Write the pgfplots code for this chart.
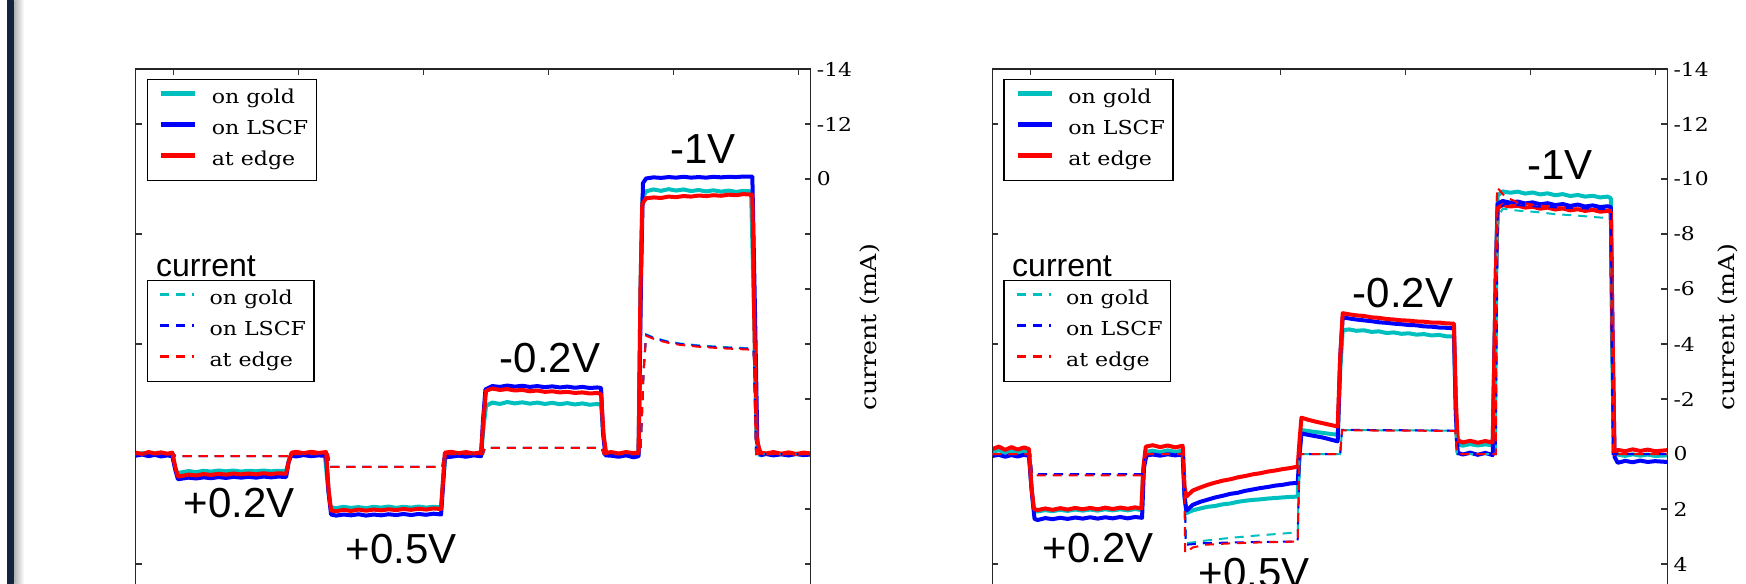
\documentclass[border=0pt]{standalone}
\usepackage{pgfplots}
\pgfplotsset{compat=1.18}
\usepackage{pgfplotstable}
\usepackage{fontspec}
\setmainfont{DejaVu Serif}
\newfontfamily\dvserif[FakeStretch=1.15]{DejaVu Serif}
\newfontfamily\annfont{Liberation Sans}
\definecolor{mplcyan}{rgb}{0,0.75,0.75}
\definecolor{mplblue}{rgb}{0,0,1}
\definecolor{mplred}{rgb}{1,0,0}
\definecolor{slidebar}{HTML}{13243E}

% ---------- left panel: solid traces ----------
\pgfplotstableread{
x y
-0.303 0.02
-0.25 -0.03
-0.20 0.03
-0.15 -0.02
-0.10 0.04
-0.05 0.00
-0.01 0.02
0.01 0.45
0.03 0.70
0.06 0.67
0.12 0.62
0.18 0.66
0.24 0.61
0.30 0.64
0.36 0.60
0.42 0.63
0.48 0.60
0.54 0.64
0.60 0.61
0.66 0.63
0.72 0.60
0.78 0.63
0.84 0.61
0.90 0.62
0.925 0.20
0.945 -0.02
0.98 0.02
1.04 -0.03
1.10 0.03
1.16 -0.01
1.21 0.02
1.235 1.20
1.255 1.93
1.30 1.97
1.36 1.92
1.42 1.96
1.48 1.93
1.54 1.97
1.60 1.92
1.66 1.95
1.72 1.91
1.78 1.96
1.84 1.92
1.90 1.95
1.96 1.91
2.02 1.95
2.08 1.92
2.14 1.94
2.155 1.00
2.175 0.10
2.22 0.08
2.28 0.03
2.34 0.07
2.40 0.01
2.46 0.04
2.48 -1.00
2.50 -1.75
2.55 -1.87
2.61 -1.82
2.67 -1.89
2.73 -1.84
2.79 -1.88
2.85 -1.83
2.91 -1.87
2.97 -1.82
3.03 -1.86
3.09 -1.81
3.15 -1.85
3.21 -1.80
3.27 -1.84
3.33 -1.79
3.39 -1.82
3.42 -1.78
3.44 -0.60
3.46 0.02
3.50 0.00
3.56 0.04
3.62 -0.01
3.68 0.03
3.72 0.00
3.735 -6.00
3.75 -9.30
3.78 -9.55
3.84 -9.62
3.90 -9.57
3.96 -9.63
4.02 -9.58
4.08 -9.62
4.14 -9.56
4.20 -9.60
4.26 -9.55
4.32 -9.59
4.38 -9.54
4.44 -9.58
4.50 -9.53
4.56 -9.57
4.62 -9.55
4.645 -5.00
4.665 -0.50
4.69 0.05
4.74 -0.02
4.80 0.04
4.86 0.00
4.92 0.05
4.98 -0.01
5.04 0.03
5.097 0.01
}\LgoldSolid

\pgfplotstableread{
x y
-0.303 0.06
-0.25 0.02
-0.20 0.08
-0.15 0.03
-0.10 0.09
-0.05 0.05
-0.01 0.08
0.015 0.60
0.035 0.92
0.06 0.90
0.12 0.86
0.18 0.89
0.24 0.85
0.30 0.88
0.36 0.84
0.42 0.87
0.48 0.83
0.54 0.86
0.60 0.83
0.66 0.86
0.72 0.82
0.78 0.85
0.84 0.82
0.90 0.84
0.92 0.30
0.94 0.06
0.98 0.09
1.04 0.04
1.10 0.08
1.16 0.05
1.22 0.07
1.24 1.40
1.26 2.20
1.30 2.24
1.36 2.20
1.42 2.23
1.48 2.19
1.54 2.24
1.60 2.20
1.66 2.23
1.72 2.19
1.78 2.22
1.84 2.18
1.90 2.22
1.96 2.18
2.02 2.21
2.08 2.17
2.14 2.20
2.155 1.20
2.17 0.12
2.22 0.10
2.28 0.06
2.34 0.10
2.40 0.05
2.46 0.08
2.475 -1.20
2.495 -2.35
2.55 -2.47
2.61 -2.44
2.67 -2.49
2.73 -2.45
2.79 -2.48
2.85 -2.44
2.91 -2.47
2.97 -2.43
3.03 -2.46
3.09 -2.42
3.15 -2.45
3.21 -2.41
3.27 -2.44
3.33 -2.40
3.39 -2.42
3.42 -2.40
3.435 -0.80
3.455 0.05
3.50 0.06
3.56 0.10
3.62 0.05
3.68 0.12
3.72 0.08
3.74 -6.50
3.755 -9.85
3.78 -10.02
3.84 -10.06
3.90 -10.04
3.96 -10.07
4.02 -10.05
4.08 -10.08
4.14 -10.05
4.20 -10.07
4.26 -10.05
4.32 -10.08
4.38 -10.06
4.44 -10.08
4.50 -10.07
4.56 -10.09
4.63 -10.09
4.65 -5.50
4.67 -0.40
4.70 0.04
4.74 0.00
4.80 0.05
4.86 0.01
4.92 0.05
4.98 0.00
5.04 0.04
5.097 0.02
}\LlscfSolid

\pgfplotstableread{
x y
-0.303 -0.05
-0.25 0.00
-0.20 -0.07
-0.15 -0.02
-0.10 -0.06
-0.05 -0.01
-0.01 -0.05
0.015 0.50
0.035 0.82
0.06 0.80
0.12 0.75
0.18 0.78
0.24 0.73
0.30 0.76
0.36 0.72
0.42 0.75
0.48 0.71
0.54 0.74
0.60 0.71
0.66 0.74
0.72 0.70
0.78 0.73
0.84 0.70
0.90 0.72
0.925 0.20
0.945 -0.05
0.98 -0.08
1.04 -0.03
1.10 -0.08
1.16 -0.04
1.22 -0.07
1.24 1.30
1.26 2.05
1.30 2.08
1.36 2.03
1.42 2.07
1.48 2.02
1.54 2.06
1.60 2.02
1.66 2.05
1.72 2.01
1.78 2.04
1.84 2.00
1.90 2.03
1.96 1.99
2.02 2.02
2.08 1.98
2.14 2.00
2.155 1.00
2.17 -0.05
2.22 -0.08
2.28 -0.03
2.34 -0.07
2.40 -0.02
2.46 -0.06
2.48 -1.30
2.50 -2.30
2.55 -2.38
2.61 -2.33
2.67 -2.36
2.73 -2.31
2.79 -2.33
2.85 -2.28
2.91 -2.31
2.97 -2.26
3.03 -2.28
3.09 -2.24
3.15 -2.26
3.21 -2.22
3.27 -2.24
3.33 -2.20
3.39 -2.22
3.42 -2.18
3.44 -0.70
3.46 -0.04
3.50 -0.07
3.56 -0.02
3.62 -0.07
3.68 -0.03
3.72 -0.06
3.735 -6.00
3.75 -9.10
3.78 -9.30
3.84 -9.33
3.90 -9.31
3.96 -9.36
4.02 -9.34
4.08 -9.38
4.14 -9.36
4.20 -9.40
4.26 -9.38
4.32 -9.41
4.38 -9.39
4.44 -9.43
4.50 -9.41
4.56 -9.45
4.63 -9.43
4.645 -5.00
4.665 -0.60
4.69 -0.05
4.74 -0.02
4.80 -0.07
4.86 -0.01
4.92 -0.06
4.98 0.00
5.04 -0.05
5.097 -0.02
}\LedgeSolid

% ---------- left panel: dashed traces ----------
\pgfplotstableread{
x y
-0.303 0.00
0.00 0.00
0.015 0.08
0.92 0.08
0.935 0.00
1.235 0.00
1.25 0.47
2.15 0.47
2.165 0.00
2.475 0.00
2.49 -0.22
3.425 -0.22
3.44 0.00
3.735 0.00
3.76 -3.00
3.78 -4.35
3.85 -4.22
3.95 -4.10
4.05 -4.02
4.20 -3.95
4.40 -3.89
4.59 -3.85
4.64 -3.84
4.66 0.00
5.097 0.00
}\LgoldDash

\pgfplotstableread{
x y
-0.303 0.00
0.00 0.00
0.015 0.08
0.92 0.08
0.935 0.00
1.235 0.00
1.25 0.47
2.15 0.47
2.165 0.00
2.475 0.00
2.49 -0.22
3.425 -0.22
3.44 0.00
3.735 0.00
3.76 -3.00
3.78 -4.33
3.85 -4.20
3.95 -4.08
4.05 -4.00
4.20 -3.93
4.40 -3.87
4.59 -3.83
4.64 -3.82
4.66 0.00
5.097 0.00
}\LlscfDash

\pgfplotstableread{
x y
-0.303 0.00
0.00 0.00
0.015 0.08
0.92 0.08
0.935 0.00
1.235 0.00
1.25 0.47
2.15 0.47
2.165 0.00
2.475 0.00
2.49 -0.22
3.425 -0.22
3.44 0.00
3.735 0.00
3.76 -3.00
3.78 -4.30
3.85 -4.17
3.95 -4.05
4.05 -3.97
4.20 -3.90
4.40 -3.84
4.59 -3.80
4.64 -3.79
4.66 0.00
5.097 0.00
}\LedgeDash

% ---------- right panel: solid traces ----------
\pgfplotstableread{
x y
-0.303 -0.08
-0.25 -0.14
-0.20 -0.05
-0.15 -0.12
-0.10 -0.04
-0.05 -0.11
-0.01 -0.06
0.01 1.20
0.03 2.05
0.06 2.09
0.12 2.04
0.18 2.08
0.24 2.03
0.30 2.07
0.36 2.02
0.42 2.06
0.48 2.02
0.54 2.06
0.60 2.01
0.66 2.05
0.72 2.01
0.78 2.05
0.84 2.00
0.89 2.04
0.905 0.60
0.925 -0.08
0.98 -0.12
1.04 -0.07
1.10 -0.13
1.16 -0.08
1.22 -0.12
1.235 1.50
1.25 2.15
1.30 2.05
1.36 1.98
1.42 1.92
1.48 1.89
1.54 1.83
1.60 1.80
1.66 1.74
1.72 1.70
1.78 1.67
1.84 1.65
1.90 1.62
1.96 1.60
2.02 1.58
2.08 1.56
2.14 1.55
2.155 0.00
2.17 -0.87
2.22 -0.84
2.28 -0.80
2.34 -0.77
2.40 -0.73
2.46 -0.70
2.48 -3.00
2.50 -4.50
2.55 -4.53
2.61 -4.48
2.67 -4.50
2.73 -4.44
2.79 -4.46
2.85 -4.40
2.91 -4.42
2.97 -4.37
3.03 -4.39
3.09 -4.34
3.15 -4.36
3.21 -4.31
3.27 -4.33
3.33 -4.28
3.39 -4.27
3.405 -1.50
3.42 -0.35
3.46 -0.30
3.52 -0.36
3.58 -0.31
3.64 -0.35
3.70 -0.32
3.725 -6.50
3.74 -9.40
3.78 -9.55
3.84 -9.50
3.90 -9.54
3.96 -9.47
4.02 -9.51
4.08 -9.44
4.14 -9.48
4.20 -9.41
4.26 -9.45
4.32 -9.38
4.38 -9.42
4.44 -9.36
4.50 -9.39
4.56 -9.33
4.62 -9.36
4.645 -9.30
4.655 -4.00
4.67 -0.20
4.70 0.02
4.76 0.07
4.82 0.01
4.88 0.06
4.94 0.02
5.00 0.07
5.097 0.05
}\RgoldSolid

\pgfplotstableread{
x y
-0.303 0.07
-0.25 0.03
-0.20 0.10
-0.15 0.04
-0.10 0.09
-0.05 0.03
-0.01 0.07
0.015 1.50
0.035 2.36
0.06 2.40
0.12 2.33
0.18 2.37
0.24 2.32
0.30 2.36
0.36 2.31
0.42 2.35
0.48 2.30
0.54 2.35
0.60 2.30
0.66 2.34
0.72 2.29
0.78 2.34
0.84 2.29
0.895 2.32
0.91 0.50
0.93 0.05
0.98 0.02
1.04 0.06
1.10 0.01
1.16 0.05
1.22 0.02
1.235 1.60
1.25 2.06
1.30 1.85
1.36 1.74
1.42 1.66
1.48 1.58
1.54 1.52
1.60 1.45
1.66 1.41
1.72 1.34
1.78 1.29
1.84 1.24
1.90 1.20
1.96 1.15
2.02 1.12
2.08 1.07
2.14 1.05
2.155 0.00
2.17 -0.75
2.22 -0.70
2.28 -0.65
2.34 -0.60
2.40 -0.53
2.46 -0.46
2.48 -3.50
2.50 -4.97
2.55 -4.93
2.61 -4.89
2.67 -4.86
2.73 -4.83
2.79 -4.79
2.85 -4.77
2.91 -4.74
2.97 -4.72
3.03 -4.69
3.09 -4.68
3.15 -4.64
3.21 -4.63
3.27 -4.60
3.33 -4.59
3.39 -4.57
3.405 -1.50
3.42 -0.05
3.46 0.02
3.52 -0.05
3.58 0.03
3.64 -0.04
3.70 0.04
3.725 -6.50
3.74 -9.10
3.78 -9.20
3.84 -9.14
3.90 -9.18
3.96 -9.11
4.02 -9.15
4.08 -9.08
4.14 -9.12
4.20 -9.05
4.26 -9.09
4.32 -9.02
4.38 -9.07
4.44 -9.00
4.50 -9.04
4.56 -8.98
4.62 -9.01
4.645 -8.98
4.66 -4.00
4.675 0.10
4.70 0.32
4.76 0.25
4.82 0.30
4.88 0.24
4.94 0.29
5.00 0.26
5.097 0.29
}\RlscfSolid

\pgfplotstableread{
x y
-0.303 -0.18
-0.25 -0.27
-0.20 -0.15
-0.15 -0.25
-0.10 -0.16
-0.05 -0.24
-0.01 -0.18
0.01 1.20
0.03 2.00
0.06 2.04
0.12 1.98
0.18 2.03
0.24 1.97
0.30 2.02
0.36 1.96
0.42 2.01
0.48 1.96
0.54 2.01
0.60 1.95
0.66 2.00
0.72 1.95
0.78 1.99
0.84 1.94
0.89 1.98
0.905 0.50
0.925 -0.27
0.98 -0.32
1.04 -0.25
1.10 -0.31
1.16 -0.24
1.22 -0.30
1.235 1.20
1.25 1.55
1.30 1.33
1.36 1.22
1.42 1.12
1.48 1.04
1.54 0.97
1.60 0.92
1.66 0.85
1.72 0.80
1.78 0.74
1.84 0.70
1.90 0.64
1.96 0.60
2.02 0.55
2.08 0.51
2.14 0.46
2.155 -0.50
2.17 -1.32
2.22 -1.25
2.28 -1.18
2.34 -1.12
2.40 -1.06
2.46 -1.00
2.48 -3.50
2.50 -5.12
2.55 -5.08
2.61 -5.04
2.67 -5.02
2.73 -4.97
2.79 -4.95
2.85 -4.91
2.91 -4.89
2.97 -4.86
3.03 -4.85
3.09 -4.82
3.15 -4.81
3.21 -4.78
3.27 -4.78
3.33 -4.75
3.39 -4.74
3.405 -2.00
3.42 -0.50
3.46 -0.42
3.52 -0.48
3.58 -0.41
3.64 -0.47
3.70 -0.42
3.725 -6.50
3.74 -8.95
3.78 -9.05
3.84 -9.00
3.90 -9.03
3.96 -8.96
4.02 -8.99
4.08 -8.92
4.14 -8.96
4.20 -8.89
4.26 -8.93
4.32 -8.86
4.38 -8.90
4.44 -8.84
4.50 -8.88
4.56 -8.81
4.62 -8.84
4.645 -8.80
4.66 -4.00
4.675 0.00
4.70 -0.15
4.76 -0.10
4.82 -0.17
4.88 -0.11
4.94 -0.16
5.00 -0.10
5.097 -0.14
}\RedgeSolid

% ---------- right panel: dashed traces ----------
\pgfplotstableread{
x y
-0.303 0.00
0.00 0.00
0.015 0.75
0.905 0.75
0.92 0.00
1.23 0.00
1.245 3.25
1.40 3.15
1.60 3.05
1.80 2.97
2.00 2.90
2.14 2.85
2.155 0.00
2.48 0.00
2.495 -0.87
3.40 -0.85
3.415 0.00
3.725 0.00
3.74 -8.60
3.78 -8.92
3.90 -8.85
4.05 -8.80
4.20 -8.72
4.35 -8.68
4.50 -8.62
4.645 -8.57
4.66 0.00
5.097 0.00
}\RgoldDash

\pgfplotstableread{
x y
-0.303 0.00
0.00 0.00
0.015 0.73
0.905 0.73
0.92 0.00
1.23 0.00
1.245 3.30
1.40 3.24
1.60 3.22
1.80 3.20
2.00 3.19
2.14 3.18
2.155 0.00
2.48 0.00
2.495 -0.88
3.40 -0.85
3.415 0.00
3.725 0.00
3.74 -8.90
3.80 -9.10
3.90 -9.05
4.05 -9.00
4.20 -8.97
4.35 -8.94
4.50 -8.92
4.645 -8.90
4.66 0.00
5.097 0.00
}\RlscfDash

\pgfplotstableread{
x y
-0.303 0.00
0.00 0.00
0.015 0.78
0.905 0.78
0.92 0.00
1.23 0.00
1.24 3.60
1.30 3.40
1.40 3.30
1.60 3.25
1.80 3.22
2.00 3.20
2.14 3.18
2.155 0.00
2.48 0.00
2.495 -0.86
3.40 -0.84
3.415 0.00
3.725 0.00
3.735 -9.70
3.80 -9.35
3.90 -9.15
4.05 -9.05
4.20 -8.98
4.35 -8.93
4.50 -8.90
4.645 -8.88
4.66 0.00
5.097 0.00
}\RedgeDash

\pgfplotsset{
  panel/.style={
    scale only axis, width=675bp, height=550bp,
    xmin=-0.303, xmax=5.097, ymin=-14, ymax=6, y dir=reverse,
    axis line style={line width=1.3bp, black!85},
    major tick length=6bp,
    every tick/.style={line width=1.1bp, black!80},
    xtick={0,...,5}, xticklabels={},
    anchor=north west,
    legend cell align=left,
  },
  legbox/.style={
    draw=black, line width=1.2bp, fill=white,
    inner xsep=8bp, inner ysep=9.6bp,
    row sep=11.2bp, column sep=14bp,
    font=\dvserif\fontsize{19.2bp}{23bp}\selectfont,
    nodes={inner sep=0pt, text height=14.1bp, text depth=5.7bp},
  },
  solidtrace/.style={line width=4bp, line join=round},
  dashtrace/.style={line width=2bp, dash pattern=on 9bp off 7bp},
  solidleg/.style={legend image code/.code={\path (-4bp,5.7bp); \draw[##1,line width=5bp] (0bp,5.7bp) -- (34bp,5.7bp);}},
  dashleg/.style={legend image code/.code={\path (-4bp,5.7bp); \draw[##1,line width=2.5bp] (0bp,5.7bp) -- (34bp,5.7bp);}},
  ticklab/.style={yticklabel style={font=\dvserif\fontsize{19bp}{21bp}\selectfont, inner sep=0pt, xshift=6bp}},
}

\begin{document}
\begin{tikzpicture}
\path[use as bounding box] (0,0) rectangle (1746bp,584bp);

% slide frame on the left
\fill[slidebar] (7bp,0) rectangle (14.3bp,584bp);
\shade[left color=black!30, right color=white] (14.3bp,0) rectangle (24bp,584bp);

% ================= left panel =================
\begin{axis}[panel, at={(135.7bp,515bp)}, ticklab,
  ytick={-14,-12,...,6}, ytick pos=right,
  yticklabels={-14,-12,0,,,,,,,,},
  solidleg,
  legend style={legbox, at={(axis description cs:0.0163,0.98182)}, anchor=north west}]
\addplot[solidtrace, mplcyan] table {\LgoldSolid};
\addlegendentry{on gold}
\addplot[solidtrace, mplblue] table {\LlscfSolid};
\addlegendentry{on LSCF}
\addplot[solidtrace, mplred] table {\LedgeSolid};
\addlegendentry{at edge}
\end{axis}
\begin{axis}[panel, at={(135.7bp,515bp)},
  ytick={-12,-8,...,4}, ytick pos=left, yticklabels={},
  dashleg,
  legend style={legbox, at={(axis description cs:0.0163,0.61636)}, anchor=north west}]
\addplot[dashtrace, mplcyan] table {\LgoldDash};
\addlegendentry{on gold}
\addplot[dashtrace, mplblue] table {\LlscfDash};
\addlegendentry{on LSCF}
\addplot[dashtrace, mplred] table {\LedgeDash};
\addlegendentry{at edge}
\end{axis}

% ================= right panel =================
\begin{axis}[panel, at={(992.3bp,515bp)}, ticklab,
  ytick={-14,-12,...,6}, ytick pos=right,
  yticklabels={-14,-12,-10,-8,-6,-4,-2,0,2,4,6},
  solidleg,
  legend style={legbox, at={(axis description cs:0.0163,0.98182)}, anchor=north west}]
\addplot[solidtrace, mplcyan] table {\RgoldSolid};
\addlegendentry{on gold}
\addplot[solidtrace, mplblue] table {\RlscfSolid};
\addlegendentry{on LSCF}
\addplot[solidtrace, mplred] table {\RedgeSolid};
\addlegendentry{at edge}
\end{axis}
\begin{axis}[panel, at={(992.3bp,515bp)},
  ytick={-12,-8,...,4}, ytick pos=left, yticklabels={},
  dashleg,
  legend style={legbox, at={(axis description cs:0.0163,0.61636)}, anchor=north west}]
\addplot[dashtrace, mplcyan] table {\RgoldDash};
\addlegendentry{on gold}
\addplot[dashtrace, mplblue] table {\RlscfDash};
\addlegendentry{on LSCF}
\addplot[dashtrace, mplred] table {\RedgeDash};
\addlegendentry{at edge}
\end{axis}

% axis titles on the right
\foreach \xx in {870,1728}{
  \node[rotate=90, font=\dvserif\fontsize{22bp}{25bp}\selectfont] at (\xx bp,257bp) {current (mA)};
}

% legend headings
\foreach \xx in {156,1012}{
  \node[anchor=base west, inner sep=0pt, font=\annfont\fontsize{32bp}{36bp}\selectfont] at (\xx bp,307bp) {current};
}

% voltage annotations
\begin{scope}[every node/.style={anchor=base, inner sep=0pt, font=\annfont\fontsize{42bp}{46bp}\selectfont}]
\node at (703bp,420bp) {-1V};
\node at (550bp,211bp) {-0.2V};
\node at (239bp,66bp) {+0.2V};
\node at (401bp,21bp) {+0.5V};
\node at (1560bp,404bp) {-1V};
\node at (1403bp,276bp) {-0.2V};
\node at (1098bp,22bp) {+0.2V};
\node at (1254bp,-3bp) {+0.5V};
\end{scope}
\end{tikzpicture}
\end{document}
